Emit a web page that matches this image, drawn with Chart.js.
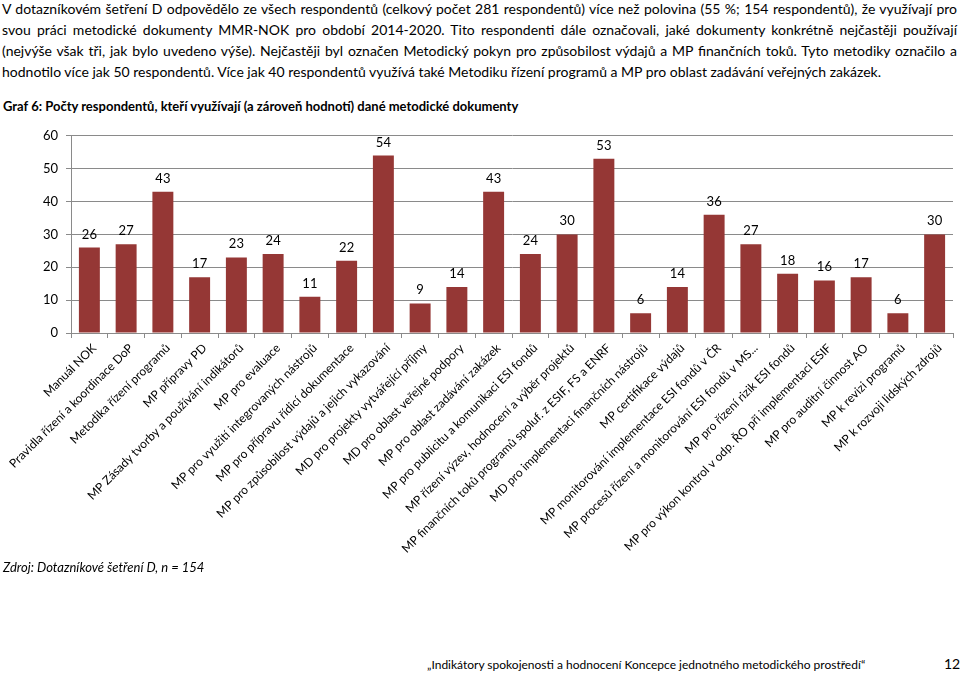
<!DOCTYPE html>
<html lang="cs">
<head>
<meta charset="utf-8">
<script src="https://cdn.jsdelivr.net/npm/chart.js@4.4.0/dist/chart.umd.min.js"></script>
<style>
  html, body { margin: 0; padding: 0; background: #fff; }
  body { width: 960px; height: 674px; position: relative; overflow: hidden; font-family: Lato, "Open Sans", sans-serif; color: #000; }
  .para { position: absolute; left: 2px; top: -2px; width: 955px; font-size: 14px; line-height: 21px; }
  .para div { text-align: justify; text-align-last: justify; white-space: nowrap; }
  .para div.last { text-align-last: left; }
  .title { position: absolute; left: 3px; top: 98px; font-size: 13px; font-weight: bold; }
  .chartBox { position: absolute; left: 0; top: 120px; width: 960px; height: 440px; }
  .source { position: absolute; left: 3px; top: 559px; font-size: 13px; font-style: italic; }
  .footer { position: absolute; left: 427px; top: 657px; font-size: 12px; }
  .page { position: absolute; left: 944px; top: 655px; font-size: 14px; }
</style>
</head>
<body>
<div class="para">
  <div>V dotazníkovém šetření D odpovědělo ze všech respondentů (celkový počet 281 respondentů) více než polovina (55 %; 154 respondentů), že využívají pro</div>
  <div>svou práci metodické dokumenty MMR-NOK pro období 2014-2020. Tito respondenti dále označovali, jaké dokumenty konkrétně nejčastěji používají</div>
  <div>(nejvýše však tři, jak bylo uvedeno výše). Nejčastěji byl označen Metodický pokyn pro způsobilost výdajů a MP finančních toků. Tyto metodiky označilo a</div>
  <div class="last">hodnotilo více jak 50 respondentů. Více jak 40 respondentů využívá také Metodiku řízení programů a MP pro oblast zadávání veřejných zakázek.</div>
</div>
<div class="title">Graf 6: Počty respondentů, kteří využívají (a zároveň hodnotí) dané metodické dokumenty</div>
<div class="chartBox"><canvas id="chart" width="960" height="440"></canvas></div>
<div class="source">Zdroj: Dotazníkové šetření D, n = 154</div>
<div class="footer">„Indikátory spokojenosti a hodnocení Koncepce jednotného metodického prostředí“</div>
<div class="page">12</div>

<script>
const categories = [
    'Manuál NOK',
    'Pravidla řízení a koordinace DoP',
    'Metodika řízení programů',
    'MP přípravy PD',
    'MP Zásady tvorby a používání indikátorů',
    'MP pro evaluace',
    'MP pro využití integrovaných nástrojů',
    'MP pro přípravu řídicí dokumentace',
    'MP pro způsobilost výdajů a jejich vykazování',
    'MD pro projekty vytvářející příjmy',
    'MD pro oblast veřejné podpory',
    'MP pro oblast zadávání zakázek',
    'MP pro publicitu a komunikaci ESI fondů',
    'MP řízení výzev, hodnocení a výběr projektů',
    'MP finančních toků programů spoluf. z ESIF, FS a ENRF',
    'MD pro implementaci finančních nástrojů',
    'MP certifikace výdajů',
    'MP monitorování implementace ESI fondů v ČR',
    'MP procesů řízení a monitorování ESI fondů v MS...',
    'MP pro řízení rizik ESI fondů',
    'MP pro výkon kontrol v odp. ŘO při implementaci ESIF',
    'MP pro auditní činnost AO',
    'MP k revizi programů',
    'MP k rozvoji lidských zdrojů'
];
const respondents = [26, 27, 43, 17, 23, 24, 11, 22, 54, 9, 14, 43, 24, 30, 53, 6, 14, 36, 27, 18, 16, 17, 6, 30];
const yTicks = [0, 10, 20, 30, 40, 50, 60];

// values above bars
const valueLabels = {
    id: 'valueLabels',
    afterDatasetsDraw(chart) {
        const ctx = chart.ctx;
        const meta = chart.getDatasetMeta(0);
        ctx.save();
        ctx.font = '13px Lato';
        ctx.fillStyle = '#000';
        ctx.textAlign = 'center';
        ctx.textBaseline = 'alphabetic';
        meta.data.forEach((bar, i) => {
            ctx.fillText(String(respondents[i]), bar.x, bar.y - 9);
        });
        ctx.restore();
    }
};

new Chart(document.getElementById('chart'), {
    type: 'bar',
    data: {
        labels: categories,
        datasets: [{
            data: respondents,
            backgroundColor: '#953735',
            borderWidth: 0,
            barPercentage: 0.57,
            categoryPercentage: 1
        }]
    },
    options: {
        responsive: false,
        animation: false,
        layout: { padding: { top: 13, right: 7, left: 0, bottom: 0 } },
        plugins: {
            legend: { display: false },
            tooltip: { enabled: false }
        },
        scales: {
            x: {
                grid: { drawOnChartArea: false, drawTicks: true, tickLength: 5, color: '#8a8a8a', offset: true },
                border: { color: '#8a8a8a' },
                ticks: {
                    autoSkip: false,
                    minRotation: 45,
                    maxRotation: 45,
                    padding: 3,
                    labelOffset: 5,
                    color: '#000',
                    font: { family: 'Lato', size: 12 }
                },
                afterFit: (scale) => { scale.height = 227; }
            },
            y: {
                min: 0,
                max: 60,
                afterBuildTicks: (scale) => { scale.ticks = yTicks.map(v => ({ value: v })); },
                grid: { color: '#8a8a8a', tickLength: 5 },
                border: { color: '#8a8a8a' },
                ticks: {
                    padding: 8,
                    color: '#000',
                    font: { family: 'Lato', size: 13 }
                },
                afterFit: (scale) => { scale.width = 71; }
            }
        }
    },
    plugins: [valueLabels]
});
</script>
</body>
</html>
